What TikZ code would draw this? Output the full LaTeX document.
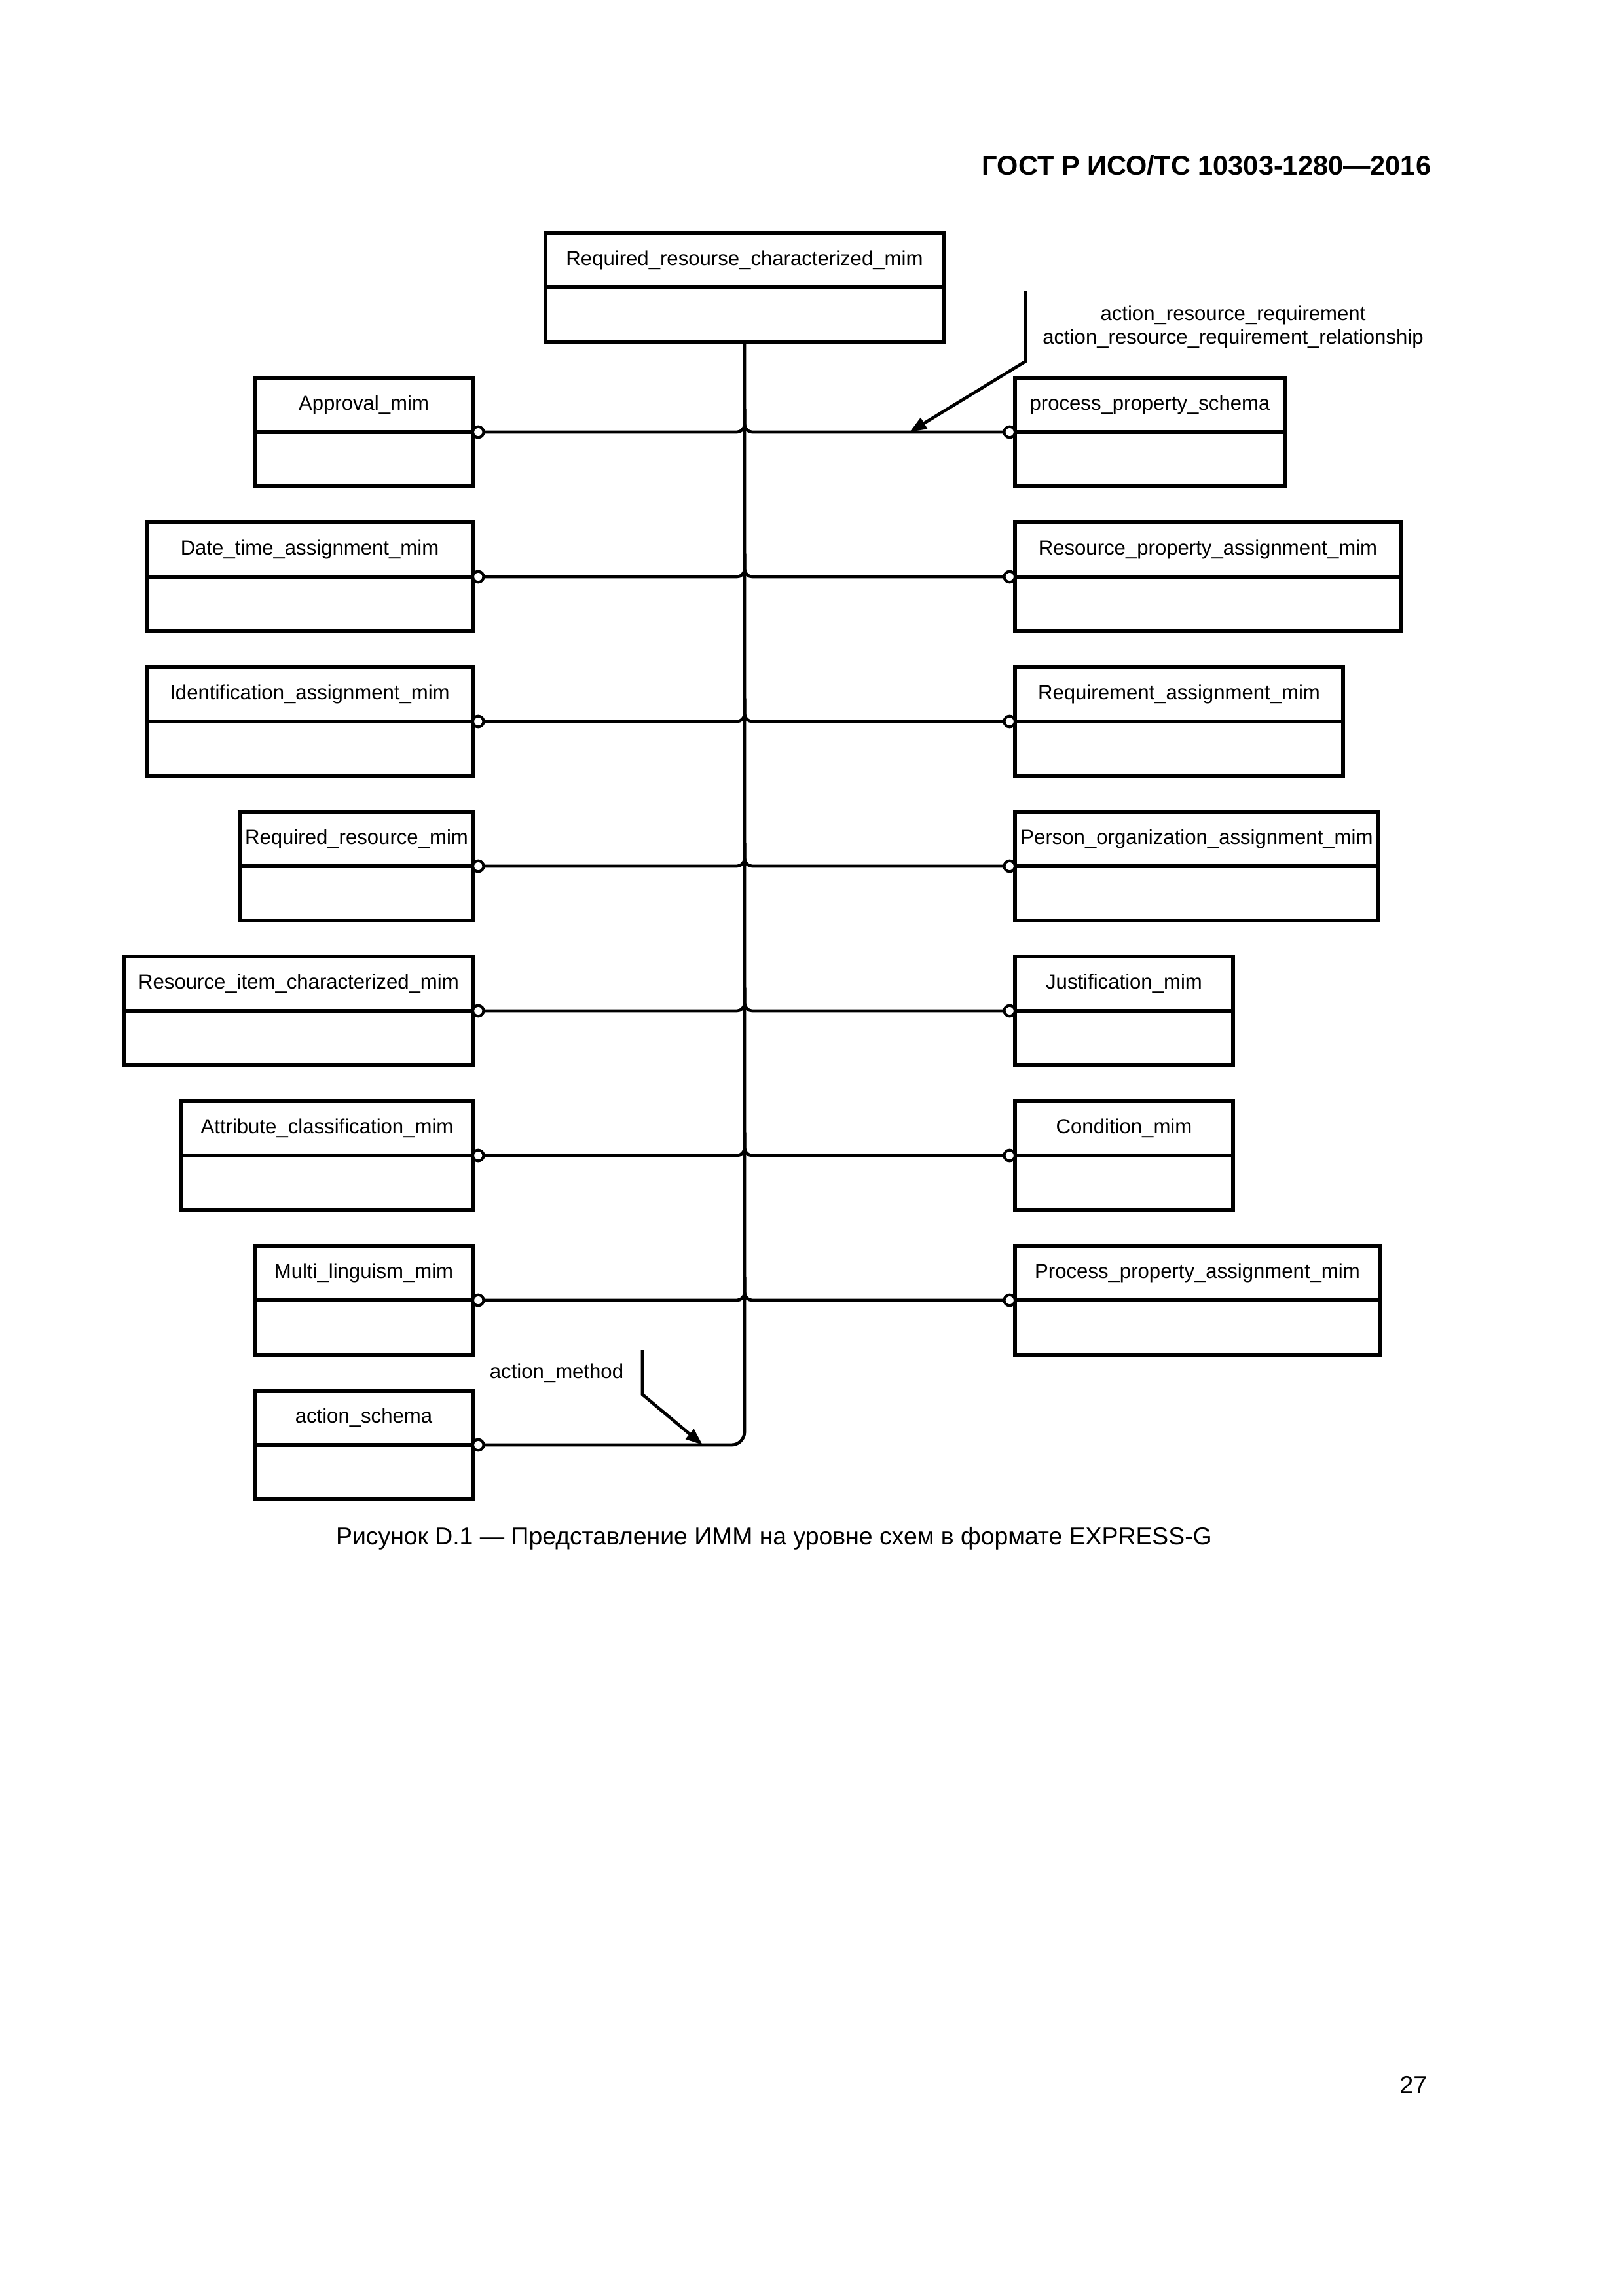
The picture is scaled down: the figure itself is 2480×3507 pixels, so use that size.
\documentclass[tikz,border=0pt]{standalone}
\usepackage{fontspec}
\setmainfont{Liberation Sans}
\usetikzlibrary{arrows.meta,calc}
\tikzset{
  ebox/.style={draw, line width=1.25pt, inner sep=0pt, outer sep=0pt,
    minimum height={166*0.0846774mm}},
  divl/.style={line width=1.25pt},
  lbl/.style={font=\fontsize{7.5}{9}\selectfont, inner sep=1pt},
  port/.style={circle, draw, fill=white, line width=1pt, inner sep=0pt,
    minimum size=1.4mm, outer sep=0pt},
  conn/.style={line width=1.15pt},
  note/.style={line width=1.15pt, -{Triangle[length=2.2mm,width=1.6mm]}},
}
% name, left x, right x, row y, label
\newcommand\embox[5]{%
  \node[ebox, minimum width={(#3-#2)*0.0846774mm}, anchor=west] (#1) at (#2,#4) {};
  \draw[divl] (#1.west) -- (#1.east);
  \node[lbl] (#1-l) at ($(#1.north)!0.5!(#1.center)$) {#5};
}
\begin{document}
\begin{tikzpicture}[x=0.0846774mm, y=-0.0846774mm]
\fill[white] (0,0) rectangle (2480,3507);
\useasboundingbox (0,0) rectangle (2480,3507);

% header, caption, page number
\node[anchor=east, inner sep=0pt, font=\bfseries\fontsize{10}{12}\selectfont] (hdr) at (2186,253) {ГОСТ Р ИСО/ТС 10303-1280—2016};
\node[inner sep=0pt, font=\fontsize{9}{11}\selectfont] (cap) at (1182,2350) {Рисунок D.1 — Представление ИММ на уровне схем в формате EXPRESS-G};
\node[anchor=east, inner sep=0pt, font=\fontsize{9}{11}\selectfont] (pg) at (2180,3184) {27};

% main box
\embox{main}{833}{1441}{439}{Required\_resourse\_characterized\_mim}

% left boxes
\embox{L1}{389}{722}{660}{Approval\_mim}
\embox{L2}{224}{722}{881}{Date\_time\_assignment\_mim}
\embox{L3}{224}{722}{1102}{Identification\_assignment\_mim}
\embox{L4}{367}{722}{1323}{Required\_resource\_mim}
\embox{L5}{190}{722}{1544}{Resource\_item\_characterized\_mim}
\embox{L6}{277}{722}{1765}{Attribute\_classification\_mim}
\embox{L7}{389}{722}{1986}{Multi\_linguism\_mim}
\embox{L8}{389}{722}{2207}{action\_schema}

% right boxes
\embox{R1}{1550}{1962}{660}{process\_property\_schema}
\embox{R2}{1550}{2139}{881}{Resource\_property\_assignment\_mim}
\embox{R3}{1550}{2051}{1102}{Requirement\_assignment\_mim}
\embox{R4}{1550}{2105}{1323}{Person\_organization\_assignment\_mim}
\embox{R5}{1550}{1883}{1544}{Justification\_mim}
\embox{R6}{1550}{1883}{1765}{Condition\_mim}
\embox{R7}{1550}{2107}{1986}{Process\_property\_assignment\_mim}

% trunk
\coordinate (trunk) at (main.south);
\draw[conn, rounded corners=1.7mm] (main.south) |- ($(L8.east)+(16,0)$);

% branches
\foreach \i in {1,...,7}{
  \draw[conn, rounded corners=1mm] ($(L\i.east)+(16,0)$) -| ([yshift=3mm]trunk |- L\i.east);
  \draw[conn, rounded corners=1mm] ($(R\i.west)-(16,0)$) -| ([yshift=3mm]trunk |- R\i.west);
}

% ports
\foreach \i in {1,...,8}{
  \node[port, anchor=west] (L\i-p) at (L\i.east) {};
}
\foreach \i in {1,...,7}{
  \node[port, anchor=east] (R\i-p) at (R\i.west) {};
}

% annotation: action_resource_requirement
\node[lbl] (n1l1) at (1883,481) {action\_resource\_requirement};
\node[lbl] (n1l2) at (1883,517) {action\_resource\_requirement\_relationship};
\coordinate (n1a) at (1566,445);
\coordinate (n1b) at (1566,552);
\coordinate (n1t) at (1389,660);
\draw[note] (n1a) -- (n1b) -- (n1t);

% annotation: action_method
\node[lbl] (n2l) at (850,2097) {action\_method};
\coordinate (n2a) at (981,2062);
\coordinate (n2b) at (981,2130);
\coordinate (n2t) at (1073,2207);
\draw[note] (n2a) -- (n2b) -- (n2t);
\end{tikzpicture}
\end{document}
